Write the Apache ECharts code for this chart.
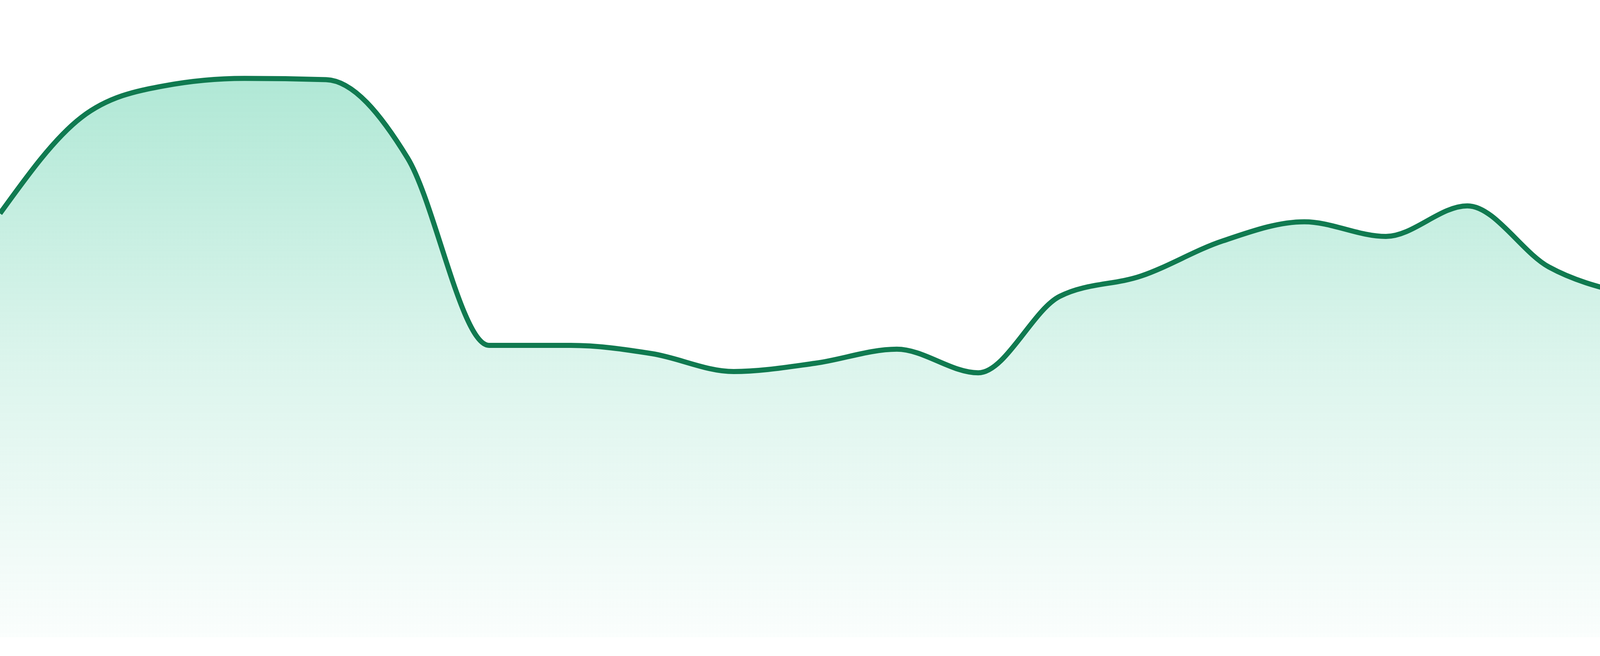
<!DOCTYPE html>
<html>
<head>
<meta charset="utf-8">
<script src="https://cdn.jsdelivr.net/npm/echarts@6/dist/echarts.min.js"></script>
<style>
  html, body { margin: 0; padding: 0; background: #fff; }
  #chart { width: 4800px; height: 1680px; }
</style>
</head>
<body>
<div id="chart"></div>
<script>
// 24 points, no visible labels in the picture
const categories = ['00:00', '01:00', '02:00', '03:00', '04:00', '05:00', '06:00', '07:00',
                    '08:00', '09:00', '10:00', '11:00', '12:00', '13:00', '14:00', '15:00',
                    '16:00', '17:00', '18:00', '19:00', '20:00', '21:00', '22:00', '23:00'];
const values = [66.5, 81.6, 86.5, 87.7, 87.5, 75.2, 45.8, 45.8,
                44.5, 41.7, 43.0, 45.2, 41.5, 53.5, 56.7, 62.2,
                65.2, 62.9, 67.7, 58.1, 53.7, 51.5, 51.9, 43.0];

// monotone cubic (x) tangents, same maths as d3.curveMonotoneX
function sign(x) { return x < 0 ? -1 : 1; }
function slope3(a, b, c) {
    let h0 = b[0] - a[0], h1 = c[0] - b[0];
    let s0 = (b[1] - a[1]) / h0, s1 = (c[1] - b[1]) / h1;
    let p = (s0 * h1 + s1 * h0) / (h0 + h1);
    return (sign(s0) + sign(s1)) * Math.min(Math.abs(s0), Math.abs(s1), 0.5 * Math.abs(p)) || 0;
}
function slope2(a, b, t) {
    let h = b[0] - a[0];
    return h ? (3 * (b[1] - a[1]) / h - t) / 2 : t;
}
function monotonePath(pts) {
    let n = pts.length;
    let t = [];
    for (let i = 1; i < n - 1; ++i) t[i] = slope3(pts[i - 1], pts[i], pts[i + 1]);
    t[0] = slope2(pts[0], pts[1], t[1]);
    t[n - 1] = slope2(pts[n - 2], pts[n - 1], t[n - 2]);
    let d = 'M' + pts[0][0] + ' ' + pts[0][1];
    for (let i = 1; i < n; ++i) {
        let p0 = pts[i - 1], p1 = pts[i];
        let dx = (p1[0] - p0[0]) / 3;
        d += ' C' + (p0[0] + dx) + ' ' + (p0[1] + dx * t[i - 1]) + ' '
            + (p1[0] - dx) + ' ' + (p1[1] - dx * t[i]) + ' '
            + p1[0] + ' ' + p1[1];
    }
    return d;
}

echarts.init(document.getElementById('chart')).setOption({
    animation: false,
    grid: {
        left: 0,
        right: 0,
        top: 0,
        bottom: 48
    },
    xAxis: {
        type: 'category',
        boundaryGap: false,
        data: categories,
        show: false
    },
    yAxis: {
        type: 'value',
        min: 0,
        max: 100,
        show: false
    },
    series: [{
        type: 'custom',
        silent: true,
        data: values.map((v, i) => [i, v]),
        encode: { x: 0, y: 1 },
        renderItem: function (params, api) {
            if (params.dataIndex !== 0) return null;
            let pts = values.map((v, i) => api.coord([i, v]));
            let base = api.coord([0, 0])[1];
            let curve = monotonePath(pts);
            let first = pts[0], last = pts[pts.length - 1];
            return {
                type: 'group',
                children: [{
                    type: 'path',
                    shape: {
                        pathData: curve + ' L' + last[0] + ' ' + base + ' L' + first[0] + ' ' + base + ' Z'
                    },
                    style: {
                        fill: new echarts.graphic.LinearGradient(0, 0, 0, 1, [
                            { offset: 0, color: 'rgba(16, 185, 129, 0.33)' },
                            { offset: 0.5, color: 'rgba(16, 185, 129, 0.15)' },
                            { offset: 1, color: 'rgba(16, 185, 129, 0.02)' }
                        ]),
                        stroke: 'none'
                    }
                }, {
                    type: 'path',
                    shape: { pathData: curve },
                    style: {
                        fill: 'none',
                        stroke: '#107a50',
                        lineWidth: 13,
                        lineJoin: 'round'
                    }
                }]
            };
        }
    }]
});
</script>
</body>
</html>
